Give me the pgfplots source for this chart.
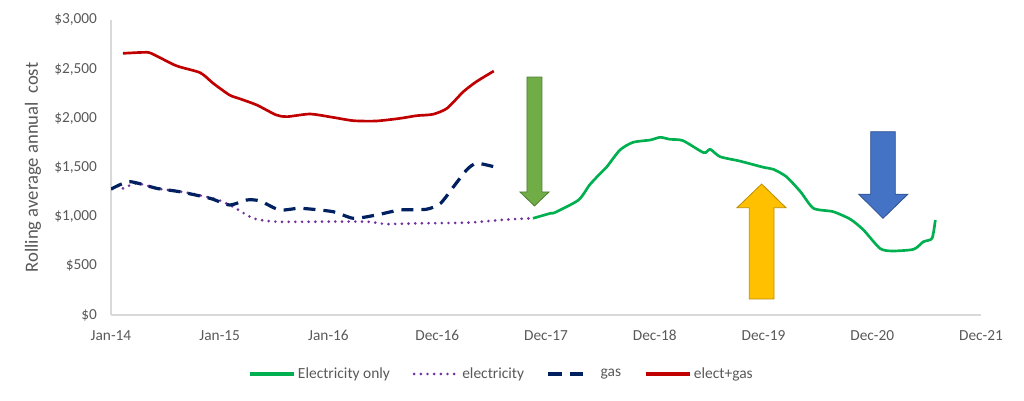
\documentclass[border=0pt]{standalone}
\usepackage{fontspec}
\setmainfont{Carlito}
\usepackage{pgfplots}
\pgfplotsset{compat=1.18}

\definecolor{elonly}{HTML}{00B050}
\definecolor{elec}{HTML}{7030A0}
\definecolor{gasc}{HTML}{002060}
\definecolor{both}{HTML}{C00000}
\definecolor{txt}{HTML}{595959}
\definecolor{axl}{HTML}{D9D9D9}

\pgfplotsset{gaslegend/.style={legend image code/.code={%
    \draw[##1, dash pattern=on 10pt off 6pt] (0pt,0pt) -- (26pt,0pt);
    \path (36pt,0pt);}},
  solidlegend/.style={legend image code/.code={%
    \draw[##1, line width=2.6pt] (0pt,0pt) -- (33pt,0pt);}}}

\begin{document}
\begin{tikzpicture}
\path[use as bounding box] (0,0) rectangle (768pt,300pt);
\begin{axis}[
    at={(83.25pt,63.75pt)}, anchor=south west,
    scale only axis, width=652.5pt, height=221.25pt,
    xmin=0, xmax=8, ymin=0, ymax=3000,
    axis x line*=bottom, axis y line*=left,
    axis line style={axl, line width=0.8pt, -},
    major tick length=0pt,
    xtick={0,...,8},
    xticklabels={Jan-14,Jan-15,Jan-16,Dec-16,Dec-17,Dec-18,Dec-19,Dec-20,Dec-21},
    ytick={0,500,...,3000},
    yticklabels={\$0,\$500,\$1{,}000,\$1{,}500,\$2{,}000,\$2{,}500,\$3{,}000},
    tick label style={font=\fontsize{11.5pt}{13pt}\selectfont, text=txt},
    xticklabel style={yshift=-8pt},
    yticklabel style={xshift=-7pt},
    ylabel={Rolling average annual\ \ cost},
    ylabel style={at={(axis description cs:-0.0897,0.5)}, anchor=center,
        font=\fontsize{14pt}{16pt}\selectfont, text=txt},
    legend columns=-1,
    legend style={at={(0.449,-0.2)}, anchor=center, draw=none, fill=none,
        font=\fontsize{11.6pt}{13pt}\selectfont, text=txt,
        /tikz/every even column/.append style={column sep=15pt}},
    legend image code/.code={\draw[#1] (0pt,0pt) -- (33pt,0pt);},
]
% Electricity only
\addplot[elonly, line width=2pt, smooth, tension=0.4, solidlegend] coordinates {
(3.88,983) (4.04,1034) (4.08,1041) (4.30,1170) (4.40,1322) (4.50,1441)
(4.56,1508) (4.68,1678) (4.80,1756) (4.96,1780) (5.05,1807) (5.14,1787)
(5.26,1773) (5.45,1651) (5.51,1685) (5.60,1610) (5.78,1566) (6.00,1502)
(6.09,1482) (6.21,1407) (6.34,1254) (6.46,1085) (6.64,1051) (6.80,973)
(6.92,864) (7.07,678) (7.18,651) (7.38,668) (7.47,745) (7.55,780) (7.58,966)
};
\addlegendentry{Electricity only}
% electricity
\addplot[elec, line width=2.2pt, line cap=round, dash pattern=on 0pt off 5pt, smooth, tension=0.4] coordinates {
(0.11,1288) (0.24,1339) (0.42,1288) (0.70,1244) (0.97,1176) (1.12,1102)
(1.31,983) (1.52,949) (1.89,949) (2.35,949) (2.53,925) (2.81,932)
(3.27,939) (3.58,966) (3.71,976) (3.88,983)
};
\addlegendentry{electricity}
% gas
\addplot[gasc, line width=2.4pt, dash pattern=on 9pt off 6pt, smooth, tension=0.4, gaslegend] coordinates {
(0,1280) (0.17,1356) (0.42,1288) (0.63,1254) (0.91,1187) (1.09,1119)
(1.25,1170) (1.37,1160) (1.55,1068) (1.74,1085) (2.04,1051) (2.23,983)
(2.44,1017) (2.66,1068) (2.90,1075) (3.03,1136) (3.15,1305) (3.27,1475)
(3.36,1543) (3.52,1508)
};
\addlegendentry{gas}
% elect+gas
\addplot[both, line width=2pt, smooth, tension=0.4, solidlegend] coordinates {
(0.11,2661) (0.30,2671) (0.37,2661) (0.60,2535) (0.82,2464) (0.94,2356)
(1.09,2237) (1.19,2197) (1.34,2136) (1.52,2034) (1.62,2017) (1.83,2044)
(2.04,2010) (2.23,1976) (2.44,1973) (2.66,2000) (2.81,2027) (2.96,2041)
(3.09,2102) (3.24,2271) (3.36,2373) (3.52,2481)
};
\addlegendentry{elect+gas}
% arrows
\draw[fill={rgb,255:red,112;green,173;blue,71}, draw={rgb,255:red,80;green,126;blue,50}, line width=0.6pt]
  (axis cs:3.825,2420) -- (axis cs:3.963,2420) -- (axis cs:3.963,1251) -- (axis cs:4.028,1251)
  -- (axis cs:3.894,1109) -- (axis cs:3.761,1251) -- (axis cs:3.825,1251) -- cycle;
\draw[fill={rgb,255:red,255;green,192;blue,0}, draw={rgb,255:red,188;green,140;blue,0}, line width=0.6pt]
  (axis cs:5.869,163) -- (axis cs:6.097,163) -- (axis cs:6.097,1091) -- (axis cs:6.207,1091)
  -- (axis cs:5.983,1332) -- (axis cs:5.756,1091) -- (axis cs:5.869,1091) -- cycle;
\draw[fill={rgb,255:red,68;green,114;blue,196}, draw={rgb,255:red,47;green,82;blue,143}, line width=0.6pt]
  (axis cs:6.986,1864) -- (axis cs:7.212,1864) -- (axis cs:7.212,1228) -- (axis cs:7.327,1228)
  -- (axis cs:7.099,983) -- (axis cs:6.876,1228) -- (axis cs:6.986,1228) -- cycle;
\end{axis}
\end{tikzpicture}
\end{document}
